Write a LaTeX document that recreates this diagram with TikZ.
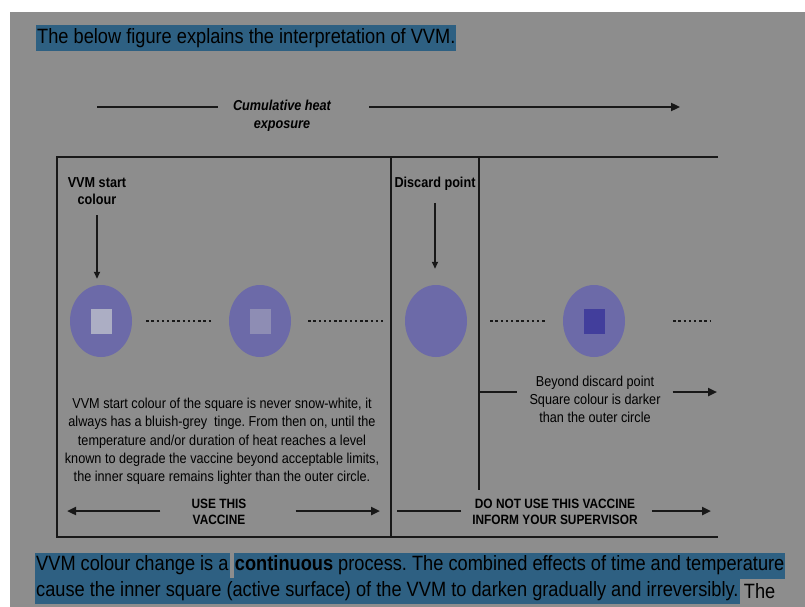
\documentclass[tikz,border=0pt]{standalone}
\usepackage{fontspec}
\setmainfont[FakeStretch=0.88]{Liberation Sans}
\usetikzlibrary{arrows.meta, positioning, shapes.geometric}
\frenchspacing

\definecolor{bggray}{RGB}{141,141,141}
\definecolor{hlblue}{RGB}{46,96,130}
\definecolor{inkline}{RGB}{24,24,24}
\definecolor{vvmcirc}{RGB}{108,106,168}
\definecolor{sqlight}{RGB}{172,174,196}
\definecolor{sqmid}{RGB}{142,141,180}
\definecolor{sqdark}{RGB}{66,62,156}

\begin{document}
\begin{tikzpicture}[x=1pt, y=-1pt,
  vvm/.style={ellipse, fill=vvmcirc, minimum width=62pt, minimum height=72pt, inner sep=0pt},
  sq/.style={rectangle, minimum width=21pt, minimum height=25pt, inner sep=0pt},
  frame/.style={line width=2.2pt, inkline},
  bar/.style={line width=2.8pt, inkline},
  arr/.style={-{Triangle[length=9pt, width=8pt]}, line width=2.8pt, inkline},
  pin/.style={-{Triangle[length=7pt, width=6pt]}, line width=1.6pt, inkline},
  dots/.style={line width=2.4pt, inkline, dash pattern=on 2.4pt off 2.8pt},
  lbl/.style={font=\fontsize{14.4}{17}\selectfont\bfseries, align=center, inner sep=0pt},
  caps/.style={font=\fontsize{13.5}{16}\selectfont\bfseries, align=center, inner sep=0pt},
  txt/.style={font=\fontsize{14.4}{18.3}\selectfont, align=center, inner sep=0pt},
  hl/.style={fill=hlblue, font=\fontsize{20.7}{25}\selectfont, inner xsep=1pt, inner ysep=0pt, minimum height=26pt, anchor=west}]
\useasboundingbox (0,0) rectangle (805,607);
\fill[white] (0,0) rectangle (805,607);
\fill[bggray] (10,12) rectangle (805,607);

% heading
\node[hl] (title) at (36,38.5) {The below figure explains the interpretation of VVM.};

% heat exposure arrow
\node[lbl, font=\fontsize{14.4}{18}\selectfont\bfseries\itshape] (heat) at (282,116) {Cumulative heat\\exposure};
\coordinate (heatA) at (97,107);
\coordinate (heatD) at (680,107);
\draw[bar, shorten >=15pt] (heatA) -- (heatA -| heat.west);
\draw[arr, shorten <=38pt] (heatA -| heat.east) -- (heatD);

% frame
\coordinate (tl) at (57,157);
\coordinate (tr) at (718,157);
\coordinate (bl) at (57,537);
\coordinate (br) at (718,537);
\coordinate (d1t) at (391,157);
\coordinate (d1b) at (391,537);
\coordinate (d2t) at (479,157);
\coordinate (d2b) at (479,490);
\draw[frame] (tr) -- (tl) -- (bl) -- (br);
\draw[frame] (d1t) -- (d1b);
\draw[frame] (d2t) -- (d2b);

% indicators
\node[vvm] (c1) at (101,321) {};
\node[vvm] (c2) at (260,321) {};
\node[vvm] (c3) at (436,321) {};
\node[vvm] (c4) at (594,321) {};
\node[sq, fill=sqlight] (s1) at (c1) {};
\node[sq, fill=sqmid] (s2) at (c2) {};
\node[sq, fill=sqdark] (s4) at (c4) {};
\coordinate (dotsEnd) at (710,321);
\draw[dots, shorten <=14pt, shorten >=18pt] (c1) -- (c2);
\draw[dots, shorten <=17pt, shorten >=22pt] (c2) -- (c3);
\draw[dots, shorten <=23pt, shorten >=16pt] (c3) -- (c4);
\draw[dots, shorten <=48pt] (c4.east) -- (dotsEnd);

% top labels
\node[lbl] (startlbl) at (97,191.5) {VVM start\\colour};
\node[lbl] (disclbl) at (435,184) {Discard point};
\draw[pin, shorten <=10pt, shorten >=6pt] (startlbl.south) -- (startlbl.south |- c1.north);
\draw[pin, shorten <=12pt, shorten >=16pt] (disclbl.south) -- (disclbl.south |- c3.north);

% explanations
\node[txt] (note) at (222,441.5) {VVM start colour of the square is never snow-white, it\\
always has a bluish-grey\ \ tinge. From then on, until the\\
temperature and/or duration of heat reaches a level\\
known to degrade the vaccine beyond acceptable limits,\\
the inner square remains lighter than the outer circle.};
\node[txt] (beyond) at (595,399.5) {Beyond discard point\\Square colour is darker\\than the outer circle};
\coordinate (stub) at (479,392);
\coordinate (beyondR) at (717,392);
\draw[bar, shorten >=12pt] (stub) -- (stub -| beyond.west);
\draw[arr, shorten <=12pt] (stub -| beyond.east) -- (beyondR);

% verdicts
\node[caps] (use) at (219,512) {USE THIS\\VACCINE};
\node[caps] (dnu) at (555,512) {DO NOT USE THIS VACCINE\\INFORM YOUR SUPERVISOR};
\coordinate (useL) at (67,511);
\coordinate (useR) at (380,511);
\coordinate (dnuL) at (397,511);
\coordinate (dnuR) at (711,511);
\draw[arr, shorten <=31pt] (useL -| use.west) -- (useL);
\draw[arr, shorten <=49pt] (useR -| use.east) -- (useR);
\draw[bar, shorten <=11pt] (dnuL -| dnu.west) -- (dnuL);
\draw[arr, shorten <=14pt] (dnuR -| dnu.east) -- (dnuR);

% closing paragraph
\node[hl] (para1a) at (35,565.5) {VVM colour change is a};
\node[hl, right=4pt of para1a] (para1b) {\textbf{continuous} process. The combined effects of time and temperature};
\node[hl] (para2a) at (35,591) {cause the inner square (active surface) of the VVM to darken gradually and irreversibly.};
\node[hl, fill=none, right=3pt of para2a] (para2b) {The};
\end{tikzpicture}
\end{document}
